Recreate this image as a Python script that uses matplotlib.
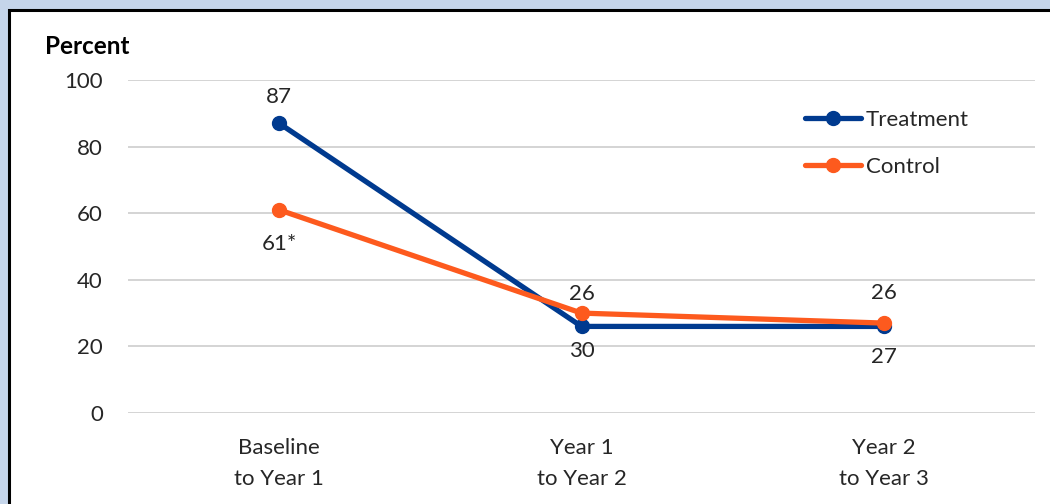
import matplotlib
matplotlib.use("Agg")
import matplotlib.pyplot as plt
from matplotlib.patches import Rectangle

categories = ["Baseline\nto Year 1", "Year 1\nto Year 2", "Year 2\nto Year 3"]
treatment = [87, 26, 26]
control = [61, 30, 27]
treatment_labels = ["87", "26", "26"]
control_labels = ["61*", "30", "27"]
yticks = [0, 20, 40, 60, 80, 100]

# layout offsets (pixels) for data labels
above_off = [26, 19, 30]
below_off = [34, 25, 31]

plt.rcParams['font.family'] = ['Lato', 'DejaVu Sans']
FS = 16
BLUE = "#003a8f"
ORANGE = "#fd5a1e"

fig = plt.figure(figsize=(10.5, 5.04), dpi=100)
fig.patch.set_facecolor("#c5d5ea")
W, H = 1050, 504

bg = fig.add_axes([0, 0, 1, 1], zorder=-10)
bg.set_axis_off()
bg.set_xlim(0, 1)
bg.set_ylim(0, 1)
bg.add_patch(Rectangle((9 / W, -0.1), 1.2, (H - 10) / H + 0.1,
                       facecolor="white", edgecolor="black", linewidth=2.2))

ax = fig.add_axes([128 / W, (H - 413) / H, (1035 - 128) / W, (413 - 80) / H])
ax.set_facecolor("none")
x = list(range(len(categories)))
ax.plot(x, treatment, color=BLUE, lw=3.8, marker="o", ms=10, label="Treatment", zorder=3,
        solid_capstyle="round")
ax.plot(x, control, color=ORANGE, lw=3.8, marker="o", ms=10, label="Control", zorder=4,
        solid_capstyle="round")

ax.set_xlim(-0.5, 2.5)
ax.set_ylim(0, 100)
ax.set_yticks(yticks)
ax.set_xticks(x)
ax.set_xticklabels(categories, fontsize=FS, linespacing=1.7, color="#262626")
ax.tick_params(axis="y", length=0, pad=18, labelsize=FS, labelcolor="#262626")
ax.tick_params(axis="x", length=0, pad=18)
for s in ax.spines.values():
    s.set_visible(False)
ax.yaxis.grid(True, color="#d4d4d4", lw=1.4)
ax.set_axisbelow(True)

for i in x:
    top = max(treatment[i], control[i])
    bot = min(treatment[i], control[i])
    ax.annotate(treatment_labels[i], (i, top), xytext=(0, above_off[i] * 0.72),
                textcoords="offset points", ha="center", va="center", fontsize=FS,
                color="#262626")
    ax.annotate(control_labels[i], (i, bot), xytext=(0, -below_off[i] * 0.72),
                textcoords="offset points", ha="center", va="center", fontsize=FS,
                color="#262626")

fig.text(45 / W, (H - 47) / H, "Percent", fontsize=17.5, fontweight="bold",
         ha="left", va="center", color="black")

leg = ax.legend(loc="upper left", bbox_to_anchor=((805 - 128) / 907, (413 - 110) / 333),
                frameon=False, fontsize=FS, handlelength=2.5, handletextpad=0.25,
                labelspacing=1.2, borderpad=0, borderaxespad=0)
for t in leg.get_texts():
    t.set_color("#262626")

fig.savefig("out.png", dpi=100, facecolor=fig.get_facecolor())
